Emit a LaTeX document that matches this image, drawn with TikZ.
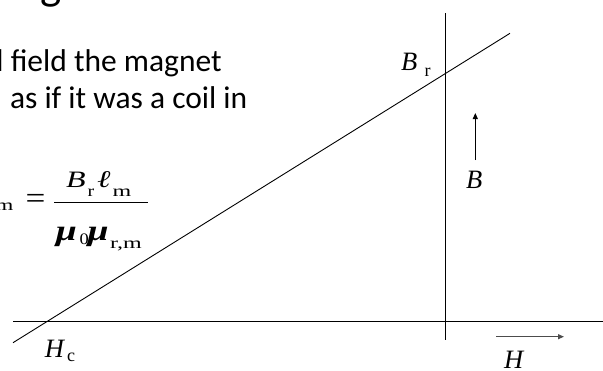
\documentclass[tikz,border=0pt]{standalone}
\usepackage{fontspec}
\setmainfont{Carlito}
\newfontfamily\tnr{Liberation Serif}
\usetikzlibrary{arrows.meta}
\newcommand{\xwide}[2]{\scalebox{#1}[1]{#2}}
\tikzset{
  axis/.style={line width=1.2pt, black},
  slope/.style={line width=0.9pt, black},
  dirarrow/.style={line width=1.1pt, black, -{Triangle[length=6pt,width=5pt]}},
  txt/.style={inner sep=0pt, outer sep=0pt, anchor=base west},
  body/.style={txt, font=\fontsize{31.5}{34}\selectfont},
  mathit/.style={txt, font=\tnr\itshape\fontsize{26.5}{27}\selectfont},
  mathsub/.style={txt, font=\tnr\fontsize{18}{18}\selectfont},
  fracit/.style={txt, font=\tnr\itshape\fontsize{23.5}{24}\selectfont},
  fracsub/.style={txt, font=\tnr\fontsize{16}{16}\selectfont},
  greek/.style={txt, font=\tnr\bfseries\itshape\fontsize{29}{29}\selectfont}
}
\begin{document}
\begin{tikzpicture}[x=1pt,y=-1pt]
\useasboundingbox (0,0) rectangle (603,370);
\clip (0,0) rectangle (603,370);
% title fragment
\node[txt, font=\fontsize{45}{45}\selectfont] (title) at (41,-1) {g};
% body text
\node[body] (line1) at (-3.5,71) {l field the magnet};
\node[body] (line2) at (10,108) {as if it was a coil in};
% formula
\node[txt, anchor=base east, font=\tnr\fontsize{16}{16}\selectfont] (hm) at (13.5,210) {\xwide{1.45}{m}};
\node[txt, anchor=center, font=\tnr\fontsize{22}{22}\selectfont] (eq) at (35.5,201.7) {\scalebox{1.6}[1.4]{=}};
\coordinate (fl) at (54,202);
\coordinate (fr) at (148,202);
\draw[line width=1pt] (fl) -- (fr);
\node[fracit] (nb) at (66,187.7) {\xwide{1.36}{B}};
\node[fracsub] (nr) at (87.5,196) {\xwide{1.25}{r}};
\node[txt, font=\tnr\itshape\fontsize{24}{24}\selectfont] (nl) at (97,187.5) {\xwide{1.34}{ℓ}};
\node[fracsub] (nm) at (112.5,196) {\xwide{1.5}{m}};
\node[greek] (mu1) at (56,240) {\xwide{1.3}{μ}};
\node[fracsub] (mu0) at (79.5,244) {\xwide{1.15}{0}};
\node[greek] (mu2) at (87.5,240) {\xwide{1.3}{μ}};
\node[fracsub] (murm) at (110,248) {\xwide{1.5}{r,m}};
% axes
\coordinate (hl) at (13,321.8);
\coordinate (hr) at (603,321.8);
\coordinate (vt) at (445.7,13.3);
\coordinate (vb) at (445.7,339.5);
\draw[axis] (hl) -- (hr);
\draw[axis] (vt) -- (vb);
% demagnetisation line
\coordinate (dl) at (13,342.7);
\coordinate (du) at (510,33.3);
\draw[slope] (dl) -- (du);
% direction arrows
\coordinate (ba) at (475.3,160);
\coordinate (bb) at (475.3,113);
\draw[dirarrow] (ba) -- (bb);
\coordinate (ha) at (496,336.7);
\coordinate (hb) at (564,336.7);
\draw[dirarrow, black!70] (ha) -- (hb);
% labels
\node[mathit] (brB) at (401,70) {B};
\node[mathsub] (brr) at (424.5,76) {r};
\node[mathit] (bB) at (466,188) {B};
\node[mathit] (hcH) at (45,357) {H};
\node[mathsub] (hcc) at (67,361) {c};
\node[mathit] (hH) at (504,368) {H};
\end{tikzpicture}
\end{document}
